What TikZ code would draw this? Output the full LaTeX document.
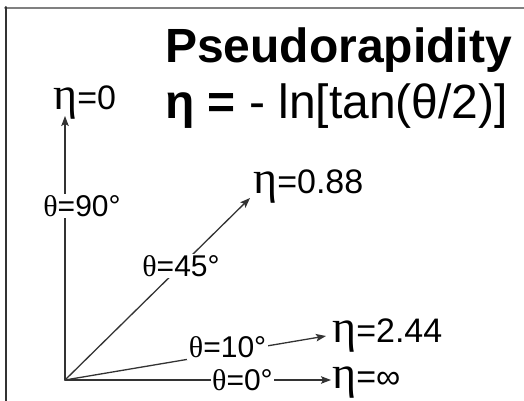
\documentclass[tikz,border=0pt]{standalone}
\usepackage{fontspec}
\setmainfont{Liberation Sans}
\newfontfamily\grk{Liberation Serif}
\usetikzlibrary{arrows.meta}
% Greek letters of the labels (serif, eta set larger)
\newcommand{\etaL}{{\grk\fontsize{46}{46}\selectfont η}}
\newcommand{\thL}{{\grk θ}}

\begin{document}
\begin{tikzpicture}[x=1pt,y=-1pt,line cap=round,
	>={Stealth[length=10pt,width=7.5pt,inset=2pt]},
	ray/.style={->,black!80,line width=1.3pt},
	ang/.style={fill=white,text=black,inner sep=1.5pt,font=\fontsize{30}{30}\selectfont},
	etalbl/.style={anchor=base west,inner sep=0pt,font=\fontsize{34}{34}\selectfont}]
	
	% ---- page and frame ----
	\useasboundingbox[fill=white] (0,0) rectangle (524,401);
	\draw[gray,line width=2pt] (5,7.8) -- (524,7.8);
	\draw[black!80,line width=2pt] (6,7) -- (6,401);
	
	% ---- title and formula ----
	\node[anchor=base west,inner sep=0pt,font=\fontsize{48}{48}\selectfont\bfseries]
	(title) at (165,63) {Pseudorapidity};
	\node[anchor=base west,inner sep=0pt,font=\fontsize{48}{48}\selectfont]
	(formula) at (165,118) {\textbf{η =} - ln[tan(θ/2)]};
	
	% ---- origin and arrow tips ----
	\coordinate (O) at (65,380);
	\coordinate (a90) at (65,116);
	\coordinate (a45) at (250,198);
	\coordinate (a10) at (326,336);
	\coordinate (a0) at (331,380);
	
	% ---- rays with their angle ----
	\draw[ray] (O) -- (a90) node[ang,pos=0.66,xshift=17pt] (t90) {\thL=90°};
	\draw[ray] (O) -- (a45) node[ang,pos=0.627] (t45) {\thL=45°};
	\draw[ray] (O) -- (a10) node[ang,pos=0.623,yshift=5pt] (t10) {\thL=10°};
	\draw[ray] (O) -- (a0) node[ang,pos=0.667] (t0) {\thL=0°};
	
	% ---- values of eta ----
	\node[etalbl] (e0) at (53,110) {\etaL=0};
	\node[etalbl] (e88) at (253,193) {\etaL=0.88};
	\node[etalbl] (e244) at (332,342) {\etaL=2.44};
	\node[etalbl] (einf) at (332,388) {\etaL=∞};
	
\end{tikzpicture}
\end{document}
